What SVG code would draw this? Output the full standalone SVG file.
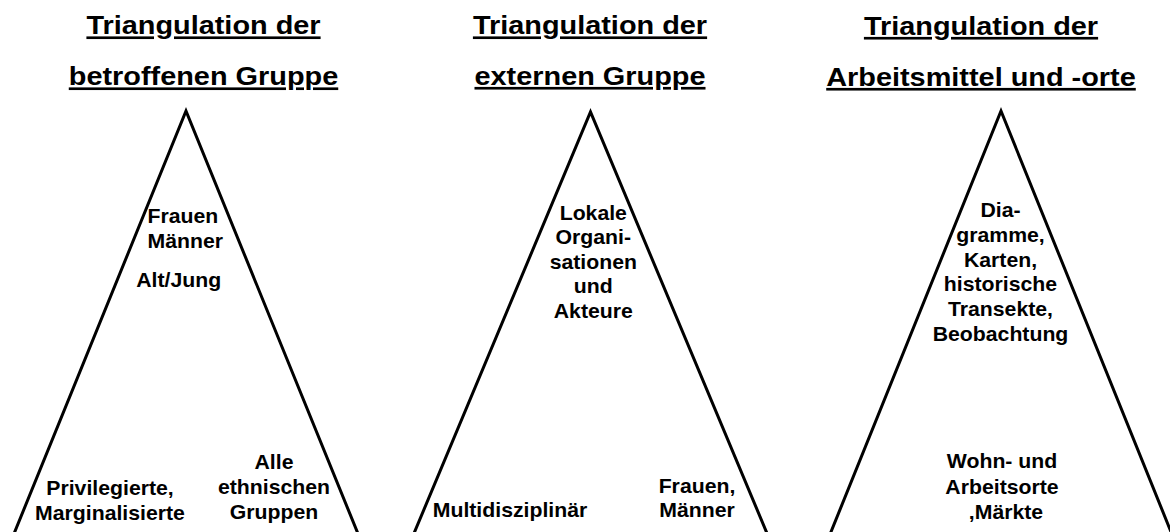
<svg xmlns="http://www.w3.org/2000/svg" width="1170" height="532" viewBox="0 0 1170 532">
<style>
  .tri { fill: none; stroke: #000; stroke-width: 3; stroke-linejoin: miter; stroke-miterlimit: 10; }
  .title { font-family: "Liberation Sans", Arial, sans-serif; font-weight: bold; font-size: 26.5px; text-anchor: middle; text-decoration: underline; fill: #000; }
  .lbl { font-family: "Liberation Sans", Arial, sans-serif; font-weight: bold; font-size: 19.5px; text-anchor: middle; fill: #000; }
  .lbl-start { text-anchor: start; }
</style>
<rect x="0" y="0" width="1170" height="532" fill="#fff"/>
<g id="connectors"/>

<g id="node-betroffene-gruppe">
  <path class="tri" d="M 9.4 545 L 186 111 L 362.6 545"/>
  <text class="title" transform="translate(203.5 0) scale(1.09 1)"><tspan x="0" y="34.5">Triangulation der</tspan><tspan x="0" y="85.5">betroffenen Gruppe</tspan></text>
  <text class="lbl lbl-start" transform="translate(147.5 0) scale(1.09 1)"><tspan x="0" y="223">Frauen</tspan><tspan x="0" y="248">Männer</tspan></text>
  <text class="lbl" transform="translate(178.7 0) scale(1.09 1)"><tspan x="0" y="287">Alt/Jung</tspan></text>
  <text class="lbl" transform="translate(110 0) scale(1.09 1)"><tspan x="0" y="495">Privilegierte,</tspan><tspan x="0" y="520">Marginalisierte</tspan></text>
  <text class="lbl" transform="translate(274 0) scale(1.09 1)"><tspan x="0" y="469">Alle</tspan><tspan x="0" y="494">ethnischen</tspan><tspan x="0" y="519">Gruppen</tspan></text>
</g>

<g id="node-externe-gruppe">
  <path class="tri" d="M 409.1 545 L 590.5 112 L 771.9 545"/>
  <text class="title" transform="translate(590 0) scale(1.09 1)"><tspan x="0" y="34.5">Triangulation der</tspan><tspan x="0" y="85">externen Gruppe</tspan></text>
  <text class="lbl" transform="translate(593.3 0) scale(1.09 1)"><tspan x="0" y="220">Lokale</tspan><tspan x="0" y="244.5">Organi-</tspan><tspan x="0" y="269">sationen</tspan><tspan x="0" y="293.5">und</tspan><tspan x="0" y="318">Akteure</tspan></text>
  <text class="lbl" transform="translate(510 0) scale(1.09 1)"><tspan x="0" y="517">Multidisziplinär</tspan></text>
  <text class="lbl" transform="translate(697 0) scale(1.09 1)"><tspan x="0" y="493.5">Frauen,</tspan><tspan x="0" y="517.5">Männer</tspan></text>
</g>

<g id="node-arbeitsmittel">
  <path class="tri" d="M 825.7 545 L 1001 111 L 1176.3 545"/>
  <text class="title" transform="translate(981 0) scale(1.09 1)"><tspan x="0" y="35">Triangulation der</tspan><tspan x="0" y="86">Arbeitsmittel und -orte</tspan></text>
  <text class="lbl" transform="translate(1000.5 0) scale(1.09 1)"><tspan x="0" y="217.5">Dia-</tspan><tspan x="0" y="242">gramme,</tspan><tspan x="0" y="266.7">Karten,</tspan><tspan x="0" y="291.5">historische</tspan><tspan x="0" y="316">Transekte,</tspan><tspan x="0" y="340.7">Beobachtung</tspan></text>
  <text class="lbl" transform="translate(1002 0) scale(1.09 1)"><tspan x="0" y="468.5">Wohn- und</tspan><tspan x="0" y="494.3">Arbeitsorte</tspan></text>
  <text class="lbl" transform="translate(1006 0) scale(1.09 1)"><tspan x="0" y="519">,Märkte</tspan></text>
</g>
</svg>
